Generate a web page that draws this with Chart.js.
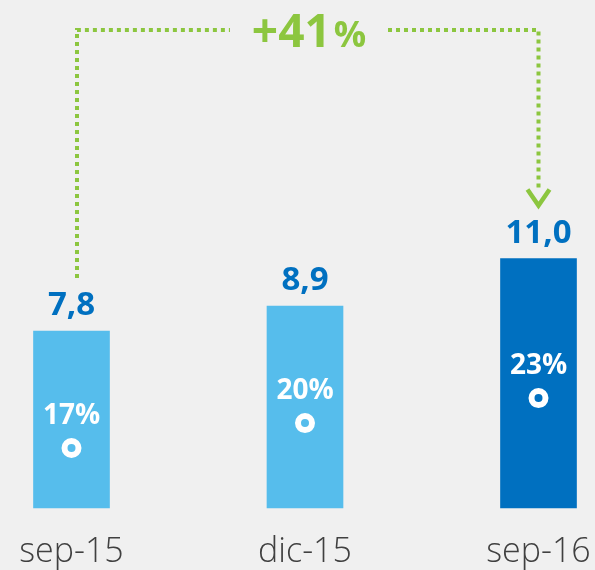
<!DOCTYPE html>
<html lang="es">
  <head>
    <meta charset="UTF-8" />
    <title>Evolución</title>
    <script src="https://cdn.jsdelivr.net/npm/chart.js"></script>
    <style>
      body { margin: 0; background: #f0f0f0; }
      #chart { display: block; }
    </style>
  </head>
  <body>
    <canvas id="chart" width="595" height="570"></canvas>
    <script>
      // datos
      const periods = ["sep-15", "dic-15", "sep-16"];
      const amounts = [7.8, 8.9, 11.0];
      const shares = [17, 20, 23];
      const growth = "+41";

      const barColors = ["#56bdec", "#56bdec", "#0070c0"];
      const FONT = "'Open Sans', 'DejaVu Sans', sans-serif";

      const fmt = (v) => v.toFixed(1).replace(".", ",");

      const labelsPlugin = {
        id: "labels",
        afterDatasetsDraw(chart) {
          const ctx = chart.ctx;
          const bars = chart.getDatasetMeta(0).data;
          const dots = chart.getDatasetMeta(1).data;
          ctx.save();
          ctx.textAlign = "center";
          ctx.textBaseline = "alphabetic";

          // values above bars
          ctx.fillStyle = "#0070c0";
          ctx.font = "bold 33px " + FONT;
          bars.forEach((b, i) => ctx.fillText(fmt(amounts[i]), b.x, b.y - 16));

          // percentages inside bars
          ctx.fillStyle = "#ffffff";
          ctx.font = "bold 28px " + FONT;
          dots.forEach((p, i) => ctx.fillText(shares[i] + "%", p.x, p.y - 24));

          // growth arrow
          const green = "#8cc63f";
          const x1 = bars[0].x + 5.5;
          const x2 = bars[2].x;
          const yTop = 30;
          ctx.strokeStyle = green;
          ctx.lineWidth = 4;
          ctx.setLineDash([4, 4]);
          ctx.beginPath();
          ctx.moveTo(x1, bars[0].y - 53);
          ctx.lineTo(x1, yTop);
          ctx.lineTo(230, yTop);
          ctx.moveTo(388, yTop);
          ctx.lineTo(x2, yTop);
          ctx.lineTo(x2, bars[2].y - 68);
          ctx.stroke();
          ctx.setLineDash([]);
          const tip = bars[2].y - 51;
          ctx.lineWidth = 4.5;
          ctx.beginPath();
          ctx.moveTo(x2 - 11, tip - 18);
          ctx.lineTo(x2, tip - 2);
          ctx.lineTo(x2 + 11, tip - 18);
          ctx.stroke();

          ctx.fillStyle = green;
          ctx.textAlign = "left";
          ctx.font = "bold 46px " + FONT;
          const w1 = ctx.measureText(growth).width;
          ctx.font = "bold 36px " + FONT;
          const w2 = ctx.measureText("%").width;
          let start = 309 - (w1 + w2 + 3) / 2;
          ctx.font = "bold 46px " + FONT;
          ctx.fillText(growth, start, 47);
          ctx.font = "bold 36px " + FONT;
          ctx.fillText("%", start + w1 + 3, 47);
          ctx.restore();
        },
      };

      new Chart(document.getElementById("chart"), {
        data: {
          labels: periods,
          datasets: [
            {
              type: "bar",
              data: amounts,
              backgroundColor: barColors,
              barThickness: 76,
              yAxisID: "y",
              clip: false,
              order: 1,
            },
            {
              type: "line",
              data: shares,
              showLine: false,
              pointRadius: 7,
              pointBorderWidth: 6,
              pointBorderColor: "#ffffff",
              pointBackgroundColor: barColors,
              yAxisID: "y2",
              order: 0,
            },
          ],
        },
        options: {
          responsive: false,
          animation: false,
          events: [],
          layout: {
            autoPadding: false,
            padding: { left: 71.5, right: 56.5, top: 0, bottom: 0 },
          },
          plugins: { legend: { display: false }, tooltip: { enabled: false } },
          scales: {
            x: {
              offset: false,
              grid: { display: false },
              border: { display: false },
              ticks: {
                color: "#404040",
                padding: 16,
                maxRotation: 0,
                font: { family: FONT, size: 34, weight: 300 },
              },
              afterFit(axis) {
                axis.height = 62;
                axis.paddingLeft = 0;
                axis.paddingRight = 0;
              },
            },
            y: { display: false, min: 0, max: 22.4 },
            y2: { display: false, min: 9.8, max: 70.8 },
          },
        },
        plugins: [labelsPlugin],
      });
    </script>
  </body>
</html>
